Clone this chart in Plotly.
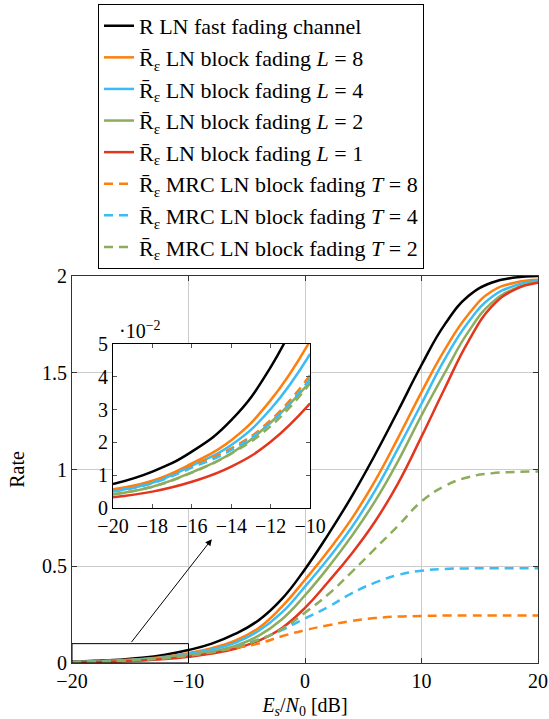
import plotly.graph_objects as go

# ---------------- data ----------------
snr_db = [-20, -18, -16, -14, -12, -10, -8, -6, -4, -2, 0, 2, 4, 6, 8, 10, 12, 14, 16, 18, 20]

rate_fast = [0.0073, 0.0111, 0.0172, 0.0268, 0.043, 0.067, 0.10, 0.15, 0.22, 0.33, 0.485,
             0.665, 0.86, 1.075, 1.305, 1.54, 1.75, 1.895, 1.965, 1.992, 2.0]
rate_L8 = [0.0057, 0.0083, 0.0136, 0.0207, 0.0329, 0.051, 0.077, 0.115, 0.18, 0.29, 0.43,
           0.58, 0.745, 0.94, 1.165, 1.40, 1.62, 1.80, 1.92, 1.965, 1.98]
rate_L4 = [0.0052, 0.0077, 0.0129, 0.0192, 0.0302, 0.047, 0.07, 0.104, 0.165, 0.26, 0.395,
           0.54, 0.70, 0.89, 1.11, 1.34, 1.57, 1.76, 1.89, 1.95, 1.975]
rate_L2 = [0.0042, 0.0065, 0.0109, 0.0167, 0.0261, 0.0385, 0.059, 0.088, 0.14, 0.225, 0.35,
           0.495, 0.655, 0.835, 1.045, 1.28, 1.50, 1.71, 1.86, 1.935, 1.97]
rate_L1 = [0.0033, 0.005, 0.008, 0.0126, 0.0202, 0.0319, 0.049, 0.074, 0.115, 0.18, 0.285,
           0.42, 0.565, 0.73, 0.93, 1.17, 1.42, 1.66, 1.84, 1.93, 1.965]
rate_mrc_T8 = [0.0055, 0.0082, 0.0131, 0.0182, 0.0268, 0.0405, 0.057, 0.077, 0.10, 0.138, 0.17,
               0.195, 0.217, 0.232, 0.24, 0.243, 0.245, 0.245, 0.245, 0.245, 0.245]
rate_mrc_T4 = [0.0050, 0.0076, 0.0123, 0.0177, 0.0261, 0.0395, 0.058, 0.085, 0.12, 0.17, 0.23,
               0.29, 0.36, 0.415, 0.455, 0.477, 0.486, 0.489, 0.49, 0.49, 0.49]
rate_mrc_T2 = [0.0042, 0.0065, 0.0108, 0.0166, 0.025, 0.038, 0.056, 0.083, 0.12, 0.175, 0.26,
               0.355, 0.47, 0.59, 0.71, 0.835, 0.915, 0.96, 0.98, 0.987, 0.99]

main_xticks = [-20, -10, 0, 10, 20]
main_yticks = [0, 0.5, 1, 1.5, 2]
inset_xticks = [-20, -18, -16, -14, -12, -10]
inset_yticks = [0, 0.01, 0.02, 0.03, 0.04, 0.05]
inset_ytext = ["0", "1", "2", "3", "4", "5"]

RB = 'R\u0304<sub>ε</sub>'
names = [
    'R LN fast fading channel',
    RB + ' LN block fading <i>L</i> = 8',
    RB + ' LN block fading <i>L</i> = 4',
    RB + ' LN block fading <i>L</i> = 2',
    RB + ' LN block fading <i>L</i> = 1',
    RB + ' MRC LN block fading <i>T</i> = 8',
    RB + ' MRC LN block fading <i>T</i> = 4',
    RB + ' MRC LN block fading <i>T</i> = 2',
]
series = [rate_fast, rate_L8, rate_L4, rate_L2, rate_L1, rate_mrc_T8, rate_mrc_T4, rate_mrc_T2]
colors = ['#000000', '#ff7f0e', '#3cbcf4', '#8dad5e', '#e2361e', '#ff7f0e', '#3cbcf4', '#8dad5e']
dashes = ['solid'] * 5 + ['9px,6px'] * 3

FONT = "Liberation Serif"

fig = go.Figure()
for i, (nm, ys, c, d) in enumerate(zip(names, series, colors, dashes)):
    fig.add_trace(go.Scatter(x=snr_db, y=ys, mode='lines', name=nm,
                             line=dict(color=c, width=2.5, dash=d, shape='spline', smoothing=1.3),
                             legendgroup=f"g{i}", xaxis='x', yaxis='y'))
for i, (ys, c, d) in enumerate(zip(series, colors, dashes)):
    fig.add_trace(go.Scatter(x=snr_db[:6], y=ys[:6], mode='lines', showlegend=False,
                             line=dict(color=c, width=2.5, dash=d, shape='spline', smoothing=1.3),
                             legendgroup=f"g{i}", xaxis='x2', yaxis='y2'))

axis_common = dict(ticks='inside', mirror='ticks', showline=True, zeroline=False,
                   tickfont=dict(family=FONT, size=20, color='#000'), automargin=False)

fig.update_layout(
    width=549, height=719,
    margin=dict(l=72, r=11, t=276, b=56, autoexpand=False),
    paper_bgcolor='white', plot_bgcolor='white',
    font=dict(family=FONT, size=20, color='#000'),
    xaxis=dict(range=[-20, 20], tickvals=main_xticks, showgrid=True, gridcolor='#cccccc',
               linecolor='#333333', linewidth=1, ticklen=5, tickcolor='#333333',
               title=dict(text='<i>E</i><sub><i>s</i></sub>/<i>N</i><sub>0</sub> [dB]',
                          font=dict(family=FONT, size=20), standoff=9),
               **axis_common),
    yaxis=dict(range=[0, 2], tickvals=main_yticks, showgrid=True, gridcolor='#cccccc',
               linecolor='#333333', linewidth=1, ticklen=5, tickcolor='#333333',
               title=dict(text='Rate', font=dict(family=FONT, size=20), standoff=12),
               **axis_common),
    xaxis2=dict(domain=[0.088, 0.511], anchor='y2', range=[-20, -10], tickvals=inset_xticks,
                showgrid=False, linecolor='#000', linewidth=1, ticklen=4, tickcolor='#555',
                **axis_common),
    yaxis2=dict(domain=[0.4005, 0.824], anchor='x2', range=[0, 0.05], tickvals=inset_yticks,
                ticktext=inset_ytext, showgrid=False, linecolor='#000', linewidth=1,
                ticklen=4, tickcolor='#555', **axis_common),
    legend=dict(x=0.0558, y=1.703, xanchor='left', yanchor='top',
                bgcolor='white', bordercolor='#000', borderwidth=1,
                font=dict(family=FONT, size=22, color='#000'),
                tracegroupgap=0, itemwidth=30),
    showlegend=True,
)

# zoom-region rectangle and arrow to the inset
fig.add_shape(type='rect', xref='x', yref='y', x0=-20, x1=-10, y0=0, y1=0.1,
              line=dict(color='#000', width=1))
fig.add_annotation(xref='x', yref='y', axref='x', ayref='y', x=-8, y=0.64, ax=-15, ay=0.1,
                   showarrow=True, arrowhead=2, arrowsize=1.3, arrowwidth=1, arrowcolor='#000', text='')
# scale note of the inset
fig.add_annotation(xref='x2 domain', yref='y2 domain', x=0.02, y=1.0, xanchor='left', yanchor='bottom',
                   text='·10<sup>−2</sup>', showarrow=False, font=dict(family=FONT, size=20))

fig.write_html("out.html", config={'displayModeBar': False},
               post_script="document.body.style.margin='0';document.body.style.padding='0';"
                           "document.body.style.overflow='hidden';")
